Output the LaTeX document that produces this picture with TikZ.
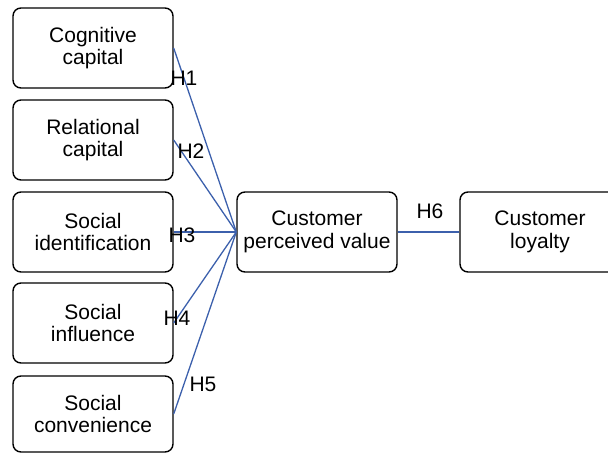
\documentclass[tikz,border=0pt]{standalone}
\usepackage{fontspec}
\setmainfont{Liberation Sans}
\definecolor{linkblue}{RGB}{60,96,172}
\begin{document}
\begin{tikzpicture}[x=1pt,y=-1pt,
  box/.style={draw=black,line width=1.4pt,rounded corners=8pt,minimum width=160pt,minimum height=80pt,inner sep=0pt,align=center,font=\fontsize{21}{22.5}\selectfont},
  link/.style={draw=linkblue,line width=1.3pt},
  hlab/.style={font=\fontsize{21}{22.5}\selectfont,inner sep=0pt}]
\useasboundingbox (0,0) rectangle (608,453);
\clip (0,0) rectangle (608,453);
\node[box] (c1) at (93,48) {Cognitive\\capital};
\node[box] (c2) at (93,140) {Relational\\capital};
\node[box] (c3) at (93,232) {Social\\identification};
\node[box] (c4) at (93,323) {Social\\influence};
\node[box,minimum height=76pt] (c5) at (93,414) {Social\\convenience};
\node[box] (cpv) at (317,232) {Customer\\perceived value};
\node[box] (cl) at (540,232) {Customer\\loyalty};
\draw[link] (c1.east) -- (cpv.west);
\draw[link] (c2.east) -- (cpv.west);
\draw[link] (c3.east) -- (cpv.west);
\draw[link] (c4.east) -- (cpv.west);
\draw[link] (c5.east) -- (cpv.west);
\draw[link] (cpv.east) -- (cl.west);
\node[hlab] (h1) at (184,78) {H1};
\node[hlab] (h2) at (191,151) {H2};
\node[hlab] (h3) at (182,235) {H3};
\node[hlab] (h4) at (177,318) {H4};
\node[hlab] (h5) at (203,384) {H5};
\node[hlab] (h6) at (430,211) {H6};
\end{tikzpicture}
\end{document}
